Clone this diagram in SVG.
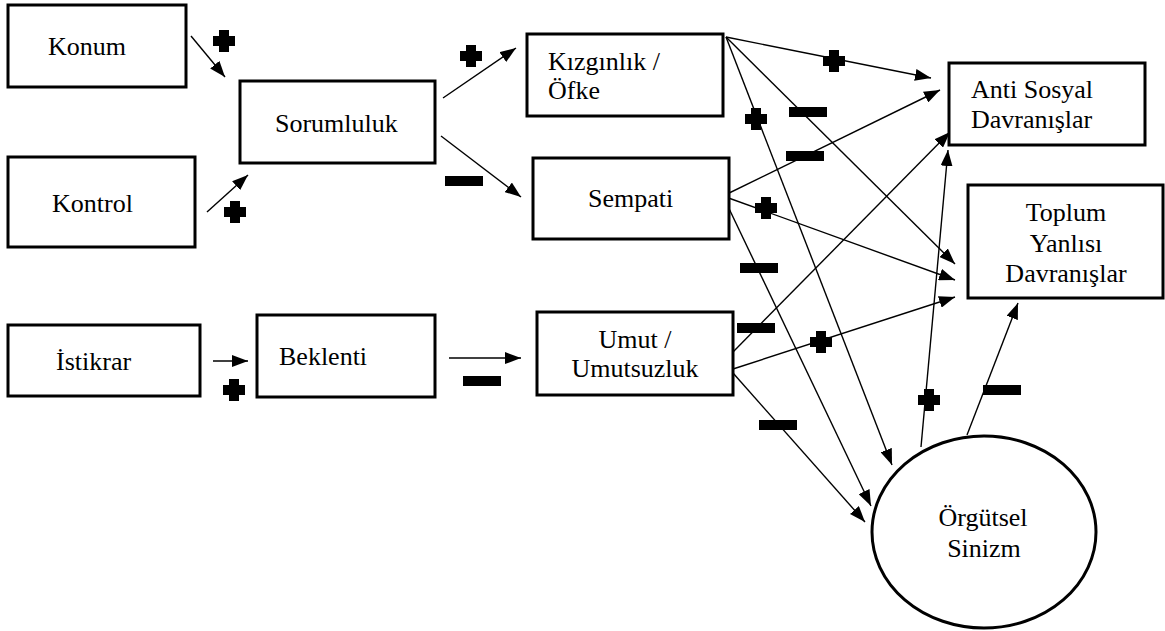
<svg xmlns="http://www.w3.org/2000/svg" width="1165" height="631" viewBox="0 0 1165 631">
<style>
.box{fill:#fff;stroke:#000;stroke-width:3}
text{font-family:'Liberation Serif','Times New Roman',Tinos,'DejaVu Serif',serif;font-size:26px;fill:#000}
.c{text-anchor:middle}
.ln{stroke:#000;stroke-width:1.4;fill:none;marker-end:url(#ah)}
</style>
<defs>
<marker id="ah" viewBox="0 0 16 12" refX="16" refY="6" markerWidth="16" markerHeight="12" markerUnits="userSpaceOnUse" orient="auto">
<path d="M0,0 L16,6 L0,12 z" fill="#000"/>
</marker>
<path id="plus" d="M-5,-11 h10 v6 h6 v10 h-6 v6 h-10 v-6 h-6 v-10 h6 z" fill="#000"/>
<rect id="minus" x="-19" y="-5" width="38" height="10" fill="#000"/>
</defs>
<rect width="1165" height="631" fill="#fff"/>

<g id="connectors">
<line class="ln" x1="191" y1="36" x2="225" y2="77"/>
<line class="ln" x1="207" y1="212" x2="248" y2="175"/>
<line class="ln" x1="443" y1="98" x2="516" y2="48"/>
<line class="ln" x1="441" y1="136" x2="521" y2="197"/>
<line class="ln" x1="213" y1="361" x2="248" y2="361"/>
<line class="ln" x1="449" y1="358" x2="521" y2="358"/>
<line class="ln" x1="726" y1="37" x2="931" y2="78"/>
<line class="ln" x1="726" y1="37" x2="955" y2="264"/>
<line class="ln" x1="726" y1="37" x2="892" y2="465"/>
<line class="ln" x1="723" y1="196" x2="940" y2="90"/>
<line class="ln" x1="723" y1="196" x2="955" y2="280"/>
<line class="ln" x1="723" y1="196" x2="871" y2="506"/>
<line class="ln" x1="733" y1="352" x2="950" y2="132"/>
<line class="ln" x1="733" y1="369" x2="955" y2="297"/>
<line class="ln" x1="733" y1="373" x2="865" y2="522"/>
<line class="ln" x1="921" y1="447" x2="948" y2="150"/>
<line class="ln" x1="967" y1="435" x2="1018" y2="303"/>
</g>

<g id="signs">
<use href="#plus" x="224" y="41"/>
<use href="#plus" x="235" y="212"/>
<use href="#plus" x="471" y="56"/>
<use href="#plus" x="234" y="390"/>
<use href="#plus" x="834" y="61"/>
<use href="#plus" x="756" y="119"/>
<use href="#plus" x="766" y="208"/>
<use href="#plus" x="821" y="342"/>
<use href="#plus" x="929" y="400"/>
<use href="#minus" x="464" y="181"/>
<use href="#minus" x="482" y="381"/>
<use href="#minus" x="808" y="112"/>
<use href="#minus" x="805" y="156"/>
<use href="#minus" x="759" y="268"/>
<use href="#minus" x="756" y="328"/>
<use href="#minus" x="778" y="425"/>
<use href="#minus" x="1002" y="390"/>
</g>

<g id="konum"><rect class="box" x="8" y="5" width="178" height="82"/><text x="48" y="55">Konum</text></g>
<g id="kontrol"><rect class="box" x="8" y="157" width="187" height="90"/><text x="52" y="212">Kontrol</text></g>
<g id="sorumluluk"><rect class="box" x="240" y="81" width="195" height="82"/><text x="275" y="132">Sorumluluk</text></g>
<g id="kizginlik"><rect class="box" x="527" y="34" width="196" height="82"/><text x="548" y="70">Kızgınlık /</text><text x="548" y="99">Öfke</text></g>
<g id="sempati"><rect class="box" x="533" y="158" width="196" height="81"/><text x="588" y="207">Sempati</text></g>
<g id="anti"><rect class="box" x="949" y="63" width="196" height="82"/><text x="971" y="98">Anti Sosyal</text><text x="971" y="128">Davranışlar</text></g>
<g id="toplum"><rect class="box" x="968" y="185" width="195" height="113"/><text class="c" x="1066" y="221">Toplum</text><text class="c" x="1066" y="252">Yanlısı</text><text class="c" x="1066" y="282">Davranışlar</text></g>
<g id="istikrar"><rect class="box" x="8" y="325" width="192" height="71"/><text x="56" y="370">İstikrar</text></g>
<g id="beklenti"><rect class="box" x="257" y="315" width="178" height="82"/><text x="279" y="365">Beklenti</text></g>
<g id="umut"><rect class="box" x="537" y="312" width="196" height="83"/><text class="c" x="635" y="348">Umut /</text><text class="c" x="635" y="377">Umutsuzluk</text></g>
<g id="orgutsel"><ellipse class="box" cx="984" cy="532" rx="112" ry="96"/><text class="c" x="983" y="526">Örgütsel</text><text class="c" x="984" y="557">Sinizm</text></g>
</svg>
